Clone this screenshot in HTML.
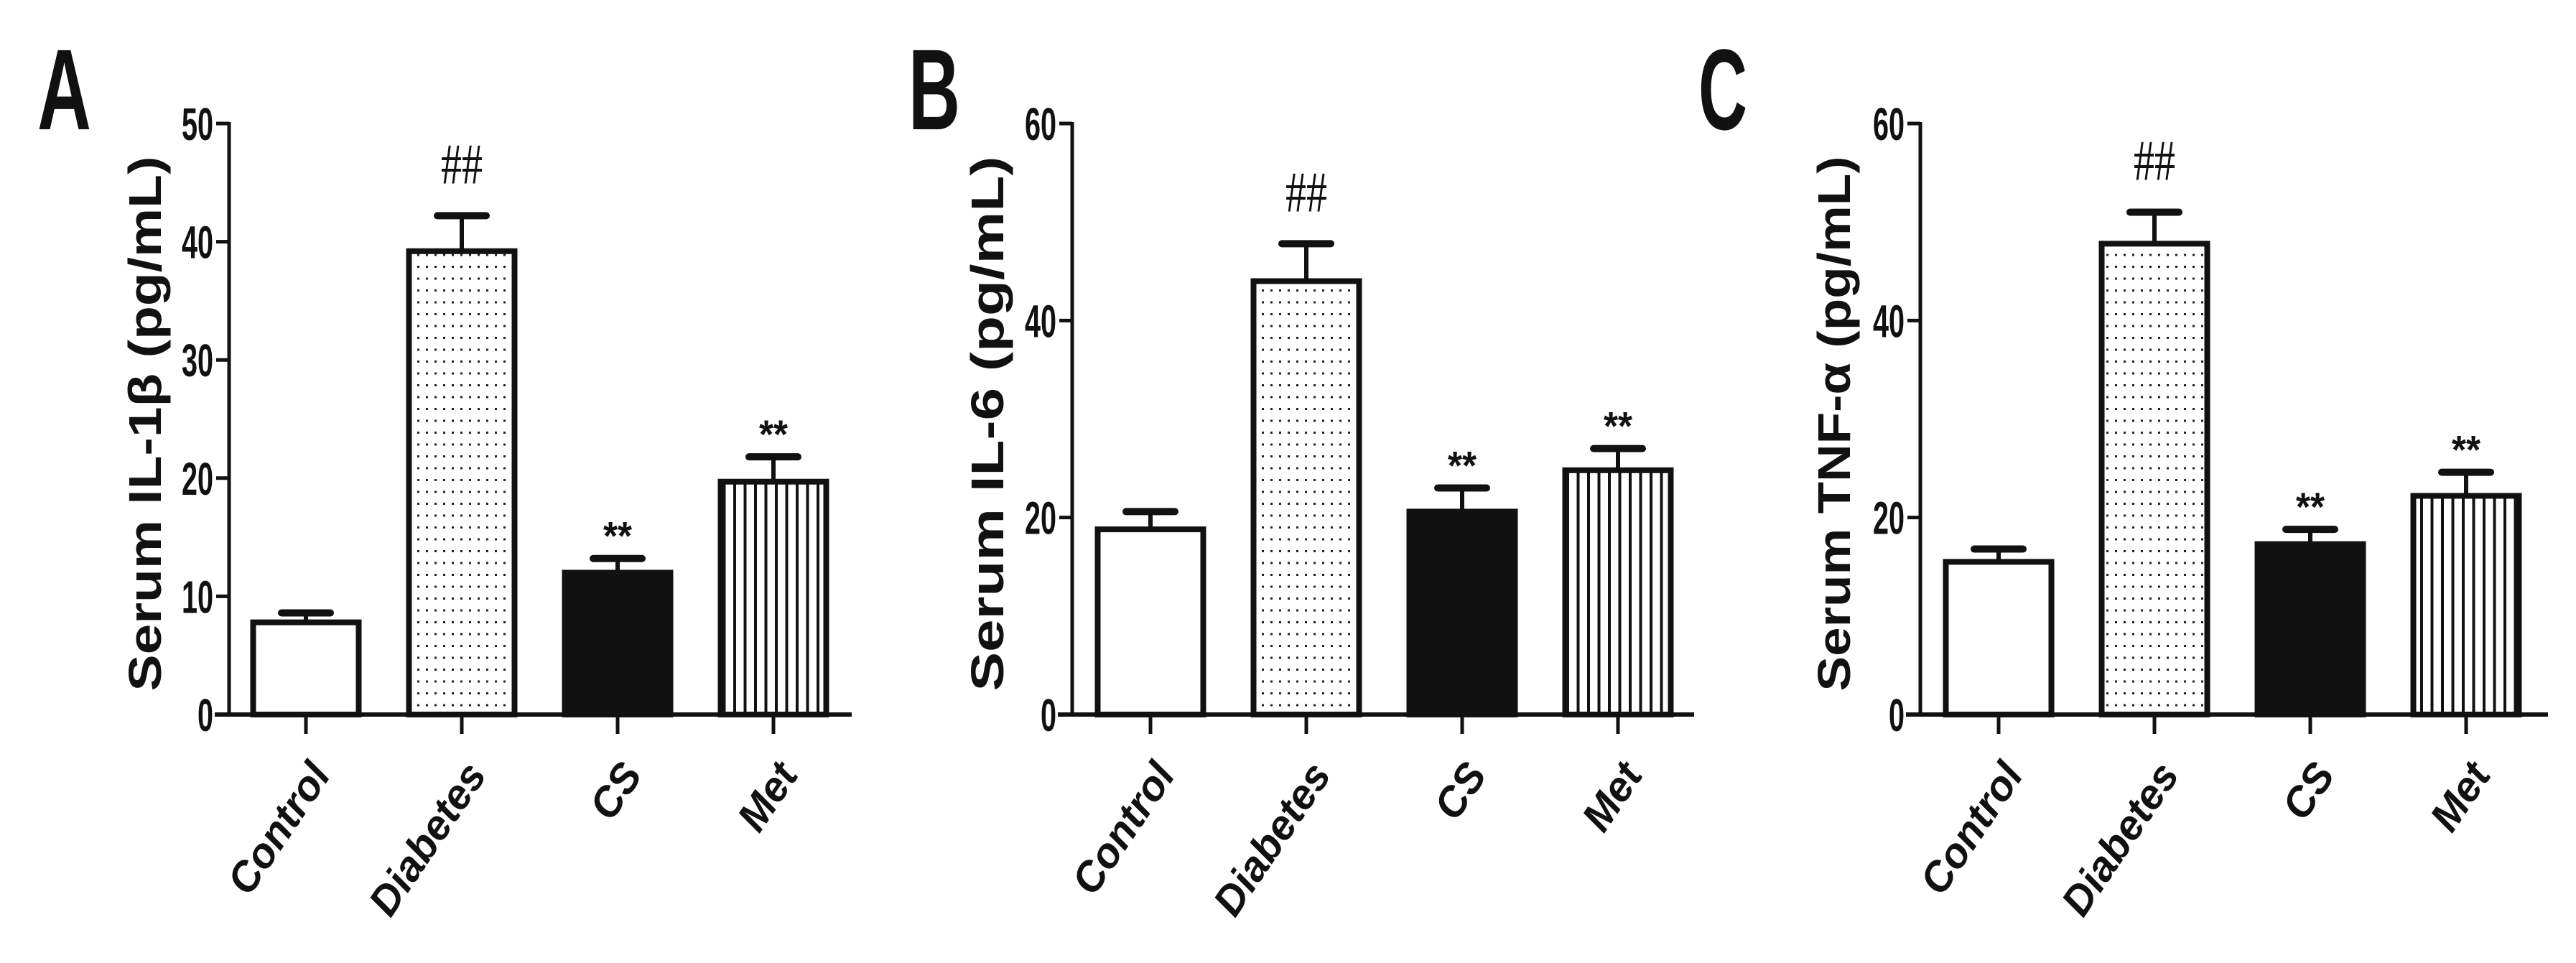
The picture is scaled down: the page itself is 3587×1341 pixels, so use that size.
<!DOCTYPE html>
<html><head><meta charset="utf-8"><style>
html,body{margin:0;padding:0;background:#fff;}
svg{display:block;}
text{font-family:"Liberation Sans",sans-serif;fill:#111;}
.num{font-family:"Liberation Sans Narrow","Liberation Sans",sans-serif;font-weight:bold;font-size:64px;}
.cat{font-weight:bold;font-style:italic;font-size:58px;}
.ytitle{font-weight:bold;font-size:64px;}
.letter{font-weight:bold;font-size:160px;}
.ann{font-family:"Liberation Serif",serif;font-size:80px;}
.star{font-weight:bold;font-size:56px;}
</style></head><body>
<svg id="fig" width="3587" height="1341" viewBox="0 0 3587 1341" xmlns="http://www.w3.org/2000/svg">
<defs>
<pattern id="dots" width="12" height="16.5" patternUnits="userSpaceOnUse"><rect width="12" height="16.5" fill="#fff"/><rect x="5" y="7" width="3" height="3" fill="#222"/></pattern>
<pattern id="stripes" width="14.5" height="14.5" patternUnits="userSpaceOnUse"><rect width="14.5" height="14.5" fill="#fff"/><rect x="6" y="0" width="4" height="14.5" fill="#111"/></pattern>
</defs>
</svg>
<script>
const categories = ["Control","Diabetes","CS","Met"];
const valuesA = [7.8, 39.2, 12.0, 19.7];
const errorsA = [0.8, 3.0, 1.2, 2.1];
const valuesB = [18.8, 44.0, 20.6, 24.8];
const errorsB = [1.8, 3.8, 2.4, 2.2];
const valuesC = [15.5, 47.8, 17.3, 22.2];
const errorsC = [1.3, 3.2, 1.5, 2.4];
const ticksA = [0,10,20,30,40,50];
const ticksB = [0,20,40,60];
const ticksC = [0,20,40,60];
const annotations = ["", "##", "**", "**"];

const NS = "http://www.w3.org/2000/svg";
const svg = document.getElementById('fig');
function mk(tag, attrs, parent){ const e=document.createElementNS(NS,tag); for(const k in attrs) e.setAttribute(k,attrs[k]); (parent||svg).appendChild(e); return e; }

const fills = ["#fff","url(#dots)","#111","url(#stripes)"];

function panel(id, letter, letterX, letterW, axisX, axisRight, firstTick, yMax, ticks, values, errors, title, titleX){
  const g = mk('g',{});
  
  
  const y0 = 995, yTop = 172;
  const y = v => y0 - (v / yMax) * (y0 - yTop);
  const step = 217, bw = 147;
  const x = i => firstTick + i * step;
  const L = mk('text',{x:letterX, y:180, class:'letter', textLength:letterW, lengthAdjust:'spacingAndGlyphs'}, g); L.textContent = letter;
  
  
  values.forEach((v,i)=>{
    const top = y(v+errors[i]);
    const eb = mk('line',{x1:x(i),x2:x(i),y1:y(v),y2:top,stroke:'#111','stroke-width':6}, g);
    
    
    const cap = mk('line',{x1:x(i)-34,x2:x(i)+34,y1:top,y2:top,stroke:'#111','stroke-width':10,'stroke-linecap':'round'}, g);
    
    
    const r = mk('rect',{x:x(i)-bw/2, y:y(v), width:bw, height:y0-y(v), fill:fills[i], stroke:'#111','stroke-width':8}, g);
    
    
    if(annotations[i]){
      const isHash = annotations[i]=="##";
      const a = mk('text',{x:x(i)-(isHash?29:20), y: isHash? top-45 : top-12, class: isHash?'ann':'star', textLength: isHash?58:40, lengthAdjust:'spacingAndGlyphs'}, g);
      a.textContent = annotations[i];
      
      
    }
    const tk = mk('line',{x1:x(i),x2:x(i),y1:y0,y2:y0+27,stroke:'#111','stroke-width':5}, g);
    
    
    const lx = x(i)+36, ly = y0+84;
    const t = mk('text',{x:lx, y:ly, 'text-anchor':'end', class:'cat', transform:`rotate(-56 ${lx} ${ly})`}, g);
    t.textContent = categories[i];
    
    
  });
  const ya = mk('line',{x1:axisX,x2:axisX,y1:yTop-2,y2:y0,stroke:'#111','stroke-width':5}, g);
  
  
  const xa = mk('line',{x1:axisX-20,x2:axisRight,y1:y0,y2:y0,stroke:'#111','stroke-width':6}, g);
  
  
  ticks.forEach(tv=>{
    const tl = mk('line',{x1:axisX-18,x2:axisX,y1:y(tv),y2:y(tv),stroke:'#111','stroke-width':5}, g);
    
    
    const s = String(tv);
    const w = s.length*22;
    const tt = mk('text',{x:axisX-22-w, y:y(tv)+23, class:'num', textLength:w, lengthAdjust:'spacingAndGlyphs'}, g);
    tt.textContent = s;
    
    
  });
  const yt = mk('text',{x:titleX, y:590, 'text-anchor':'middle', class:'ytitle', transform:`rotate(-90 ${titleX} 590)`, textLength:745, lengthAdjust:'spacingAndGlyphs', 'xml:space':'preserve'}, g);
  yt.textContent = title;
  
  
}
panel('a','A',52,75,319,1186,426,50,ticksA,valuesA,errorsA,'Serum IL-1β  (pg/mL)',224);
panel('b','B',1265,72,1493,2359,1602,60,ticksB,valuesB,errorsB,'Serum IL-6 (pg/mL)',1397);
panel('c','C',2365,68,2674,3548,2783,60,ticksC,valuesC,errorsC,'Serum TNF-α  (pg/mL)',2576);
</script>
</body></html>
